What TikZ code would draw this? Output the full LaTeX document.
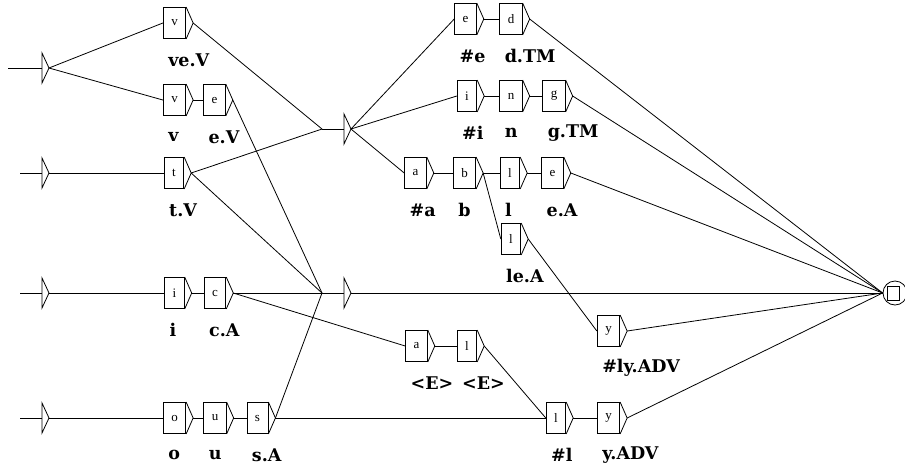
\documentclass[tikz,border=0pt]{standalone}
\usepackage{fontspec}
\setmainfont{Liberation Serif}
\newfontfamily\outfont{DejaVu Serif}
\tikzset{
	grfbox/.style   = {shape=rectangle, draw, inner xsep=8pt, inner ysep=0pt,
		minimum height=31pt, font=\fontsize{13}{13}\selectfont},
	grfout/.style   = {anchor=west, inner sep=0pt,
		font=\outfont\bfseries\fontsize{17.5}{17.5}\selectfont},
	grftip/.style   = {draw, line join=miter},
	final/.style    = {circle, draw, minimum size=24pt, inner sep=0pt},
	finalsq/.style  = {rectangle, draw, minimum width=12pt, minimum height=14pt, inner sep=0pt}
}
% box with its triangle and the output written below it
\newcommand{\unibox}[4]{%
	\node [grfbox] (#1) at (#2) {#3};
	\draw [grftip] (#1.north east) -- ([xshift=7pt]#1.east) coordinate (#1-tip) -- (#1.south east);
	\node [grfout] (#1-out) at ([xshift=5pt,yshift=-21pt]#1.south west) {#4};
}
% initial arrow or empty box: a bare triangle
\newcommand{\unistart}[2]{%
	\coordinate (#1) at (#2);
	\draw [grftip] ([yshift=15pt]#1) -- ([xshift=7pt]#1) coordinate (#1-tip) -- ([yshift=-15pt]#1) -- cycle;
}

\begin{document}
\begin{tikzpicture}
[
x                 = 1pt,
y                 = -1pt,
line width        = 0.8pt,
every path/.style = {line cap=butt}
]
\useasboundingbox (0,0) rectangle (905,467);

% initial states
\coordinate (s1-in) at (8,68);
\coordinate (s2-in) at (20,173);
\coordinate (s3-in) at (20,293);
\coordinate (s4-in) at (20,418);
\unistart{s1}{42,68}
\unistart{s2}{42,173}
\unistart{s3}{42,293}
\unistart{s4}{42,418}
\draw (s1-in) -- (s1);
\draw (s2-in) -- (s2);
\draw (s3-in) -- (s3);
\draw (s4-in) -- (s4);

% left column
\unibox{ve}{174.5,23}{v}{ve.V}
\unibox{v}{174.5,100}{v}{v}
\unibox{eV}{214.5,100}{e}{e.V}
\unibox{t}{174,173}{t}{t.V}
\unibox{i}{174.5,293}{i}{i}
\unibox{cA}{215,293}{c}{c.A}
\unibox{o}{174.5,418}{o}{o}
\unibox{u}{215,418}{u}{u}
\unibox{sA}{257.5,418}{s}{s.A}

% junctions and empty boxes
\coordinate (j1) at (322,129);
\coordinate (j2) at (322,293);
\unistart{e1}{344,129}
\unistart{e2}{344,293}
\draw (j1) -- (e1);
\draw (j2) -- (e2);

% right part
\unibox{he}{465.5,19}{e}{\#e}
\unibox{dTM}{511,19}{d}{d.TM}
\unibox{hi}{467,96}{i}{\#i}
\unibox{n}{511,96}{n}{n}
\unibox{gTM}{554,96}{g}{g.TM}
\unibox{ha}{415.5,173}{a}{\#a}
\unibox{b}{464.5,173}{b}{b}
\unibox{l}{510,173}{l}{l}
\unibox{eA}{552.5,173}{e}{e.A}
\unibox{leA}{511,239}{l}{le.A}
\unibox{hly}{608.5,331}{y}{\#ly.ADV}
\unibox{ea}{416.5,346}{a}{<E>}
\unibox{el}{467,346}{l}{<E>}
\unibox{hl}{556,418}{l}{\#l}
\unibox{yADV}{608.5,418}{y}{y.ADV}

% final state
\node [final] (fin) at (895,293) {};
\node [finalsq] (fin-sq) at (893,293) {};

% transitions
\draw (s1-tip) -- (ve.west);
\draw (s1-tip) -- (v.west);
\draw (ve-tip) -- (j1);
\draw (v-tip) -- (eV.west);
\draw (eV-tip) -- (j2);
\draw (s2-tip) -- (t.west);
\draw (t-tip) -- (j1);
\draw (t-tip) -- (j2);
\draw (s3-tip) -- (i.west);
\draw (i-tip) -- (cA.west);
\draw (cA-tip) -- (j2);
\draw (cA-tip) -- (ea.west);
\draw (s4-tip) -- (o.west);
\draw (o-tip) -- (u.west);
\draw (u-tip) -- (sA.west);
\draw (sA-tip) -- (j2);
\draw (sA-tip) -- (hl.west);
\draw (e1-tip) -- (he.west);
\draw (e1-tip) -- (hi.west);
\draw (e1-tip) -- (ha.west);
\draw (he-tip) -- (dTM.west);
\draw (hi-tip) -- (n.west);
\draw (n-tip) -- (gTM.west);
\draw (ha-tip) -- (b.west);
\draw (b-tip) -- (l.west);
\draw (b-tip) -- (leA.west);
\draw (l-tip) -- (eA.west);
\draw (leA-tip) -- (hly.west);
\draw (ea-tip) -- (el.west);
\draw (el-tip) -- (hl.west);
\draw (hl-tip) -- (yADV.west);
\draw (dTM-tip) -- (fin.west);
\draw (gTM-tip) -- (fin.west);
\draw (eA-tip) -- (fin.west);
\draw (e2-tip) -- (fin.west);
\draw (hly-tip) -- (fin.west);
\draw (yADV-tip) -- (fin.west);
\end{tikzpicture}
\end{document}
